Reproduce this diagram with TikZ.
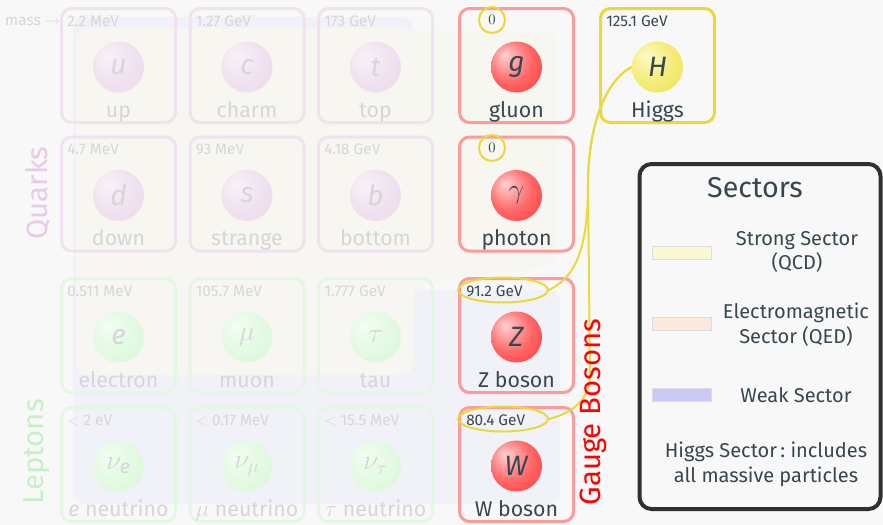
\documentclass[tikz,border=0pt]{standalone}
\usepackage{amsmath}
\usepackage{fontspec}
\setmainfont{Fira Sans}
\usetikzlibrary{shapes.geometric}

% palette
\definecolor{bg}{HTML}{F8F8F8}
\definecolor{ink}{HTML}{37474F}
\definecolor{fade}{HTML}{D6D6D6}
\definecolor{quarkline}{HTML}{F0E2F0}
\definecolor{leptonline}{HTML}{E2F8E2}
\definecolor{gaugeline}{HTML}{FF9A9A}
\definecolor{higgsline}{HTML}{E9D93A}
\definecolor{quarklabel}{HTML}{E6CCE6}
\definecolor{leptonlabel}{HTML}{C8F0C8}
\definecolor{weakbg}{HTML}{F1F2F8}
\definecolor{embg}{HTML}{F8F6F3}
\definecolor{strongbg}{HTML}{F7F7F0}
\definecolor{legendline}{HTML}{2F2F2F}
\definecolor{swstrong}{HTML}{FBF8D6}
\definecolor{swem}{HTML}{FAE9DC}
\definecolor{swweak}{HTML}{C9C9F3}
\definecolor{swedge}{HTML}{DDDDDD}
% ball colours
\definecolor{rbA}{HTML}{FFD2D2}
\definecolor{rbB}{HTML}{FF6666}
\definecolor{rbC}{HTML}{FF2020}
\definecolor{ybA}{HTML}{FCFAC8}
\definecolor{ybB}{HTML}{F4EC78}
\definecolor{ybC}{HTML}{ECDE3C}
\definecolor{pbA}{HTML}{F8F1F8}
\definecolor{pbB}{HTML}{F0E2F0}
\definecolor{pbC}{HTML}{E9D4E9}
\definecolor{gbA}{HTML}{F2FDF2}
\definecolor{gbB}{HTML}{E2FAE2}
\definecolor{gbC}{HTML}{D2F5D2}

\pgfdeclareradialshading{redball}{\pgfpoint{-12bp}{12bp}}{color(0bp)=(rbA); color(22bp)=(rbB); color(50bp)=(rbC)}
\pgfdeclareradialshading{yellowball}{\pgfpoint{-12bp}{12bp}}{color(0bp)=(ybA); color(22bp)=(ybB); color(50bp)=(ybC)}
\pgfdeclareradialshading{purpleball}{\pgfpoint{-12bp}{12bp}}{color(0bp)=(pbA); color(22bp)=(pbB); color(50bp)=(pbC)}
\pgfdeclareradialshading{greenball}{\pgfpoint{-12bp}{12bp}}{color(0bp)=(gbA); color(22bp)=(gbB); color(50bp)=(gbC)}

\tikzset{
  cellbox/.style={draw, rounded corners=7.5pt, line width=2.25pt,
    minimum width=85.5pt, minimum height=85.5pt, inner sep=0pt},
  ballnode/.style={circle, minimum size=38.25pt, inner sep=0pt,
    font=\fontsize{21}{24}\selectfont},
  namelabel/.style={anchor=base, inner sep=0pt, font=\fontsize{16}{19}\selectfont},
  masslabel/.style={anchor=base west, inner sep=0pt, font=\fontsize{11.5}{13}\selectfont},
  quark box/.style={draw=quarkline},
  quark ball/.style={shade, shading=purpleball, text=fade},
  quark text/.style={text=fade},
  lepton box/.style={draw=leptonline},
  lepton ball/.style={shade, shading=greenball, text=fade},
  lepton text/.style={text=fade},
  gauge box/.style={draw=gaugeline},
  gauge ball/.style={shade, shading=redball, text=ink},
  gauge text/.style={text=ink},
  higgs box/.style={draw=higgsline},
  higgs ball/.style={shade, shading=yellowball, text=ink},
  higgs text/.style={text=ink},
  massring/.style={circle, draw=higgsline, line width=1.5pt, minimum size=19.5pt,
    inner sep=0pt, text=ink, font=\fontsize{10.5}{12}\selectfont},
  massoval/.style={ellipse, draw=higgsline, line width=1.5pt, minimum width=67.5pt,
    minimum height=18.75pt, inner sep=0pt},
  higgslink/.style={draw=higgsline, line width=1.5pt},
  grouplabel/.style={rotate=90, inner sep=0pt, font=\fontsize{22}{26}\selectfont},
  legendbox/.style={draw=legendline, line width=3pt, rounded corners=9pt,
    minimum width=180.75pt, minimum height=258.75pt, inner sep=0pt},
  swatch/.style={draw=swedge, line width=0.75pt, minimum width=44.25pt,
    minimum height=9.75pt, inner sep=0pt},
  legendtext/.style={align=center, text=ink, inner sep=0pt,
    font=\fontsize{15}{18.5}\selectfont},
}

% one particle cell: name, left, top, kind, symbol, label
\newcommand\pcell[6]{%
  \node[cellbox, #4 box] (#1) at ({#2+58.5},{#3+58.5}) {};
  \node[ballnode, #4 ball] (#1-b) at ({#2+58.5},{#3+60}) {#5};
  \node[namelabel, #4 text] (#1-l) at ({#2+58.5},{#3+110}) {#6};
}
% mass printed in the upper left corner of a cell: name, left, top, kind, mass
\newcommand\pmass[5]{%
  \node[masslabel, #4 text] (#1-m) at ({#2+7},{#3+19}) {#5};
}

\begin{document}
\begin{tikzpicture}[x=0.75pt, y=-0.75pt]
\fill[bg] (0,0) rectangle (883,525);
\useasboundingbox (0,0) rectangle (883,525);

% sector backgrounds
\fill[weakbg, rounded corners=9pt] (73,17) -- (413,17) -- (413,290) -- (560,290)
  -- (560,504) -- (73,504) -- cycle;
\fill[embg, rounded corners=9pt] (76,28) -- (413,28) -- (413,148) -- (557,148)
  -- (557,265) -- (413,285) -- (413,375) -- (76,375) -- cycle;
\fill[strongbg, opacity=0.7, rounded corners=9pt] (80,30) rectangle (557,258);

% quarks
\pcell{u}{60}{7}{quark}{\textit{u}}{up}
\pcell{c}{188.5}{7}{quark}{\textit{c}}{charm}
\pcell{t}{317}{7}{quark}{\textit{t}}{top}
\pcell{d}{60}{135.5}{quark}{\textit{d}}{down}
\pcell{s}{188.5}{135.5}{quark}{\textit{s}}{strange}
\pcell{b}{317}{135.5}{quark}{\textit{b}}{bottom}
\pmass{u}{60}{7}{quark}{2.2 MeV}
\pmass{c}{188.5}{7}{quark}{1.27 GeV}
\pmass{t}{317}{7}{quark}{173 GeV}
\pmass{d}{60}{135.5}{quark}{4.7 MeV}
\pmass{s}{188.5}{135.5}{quark}{93 MeV}
\pmass{b}{317}{135.5}{quark}{4.18 GeV}

% leptons
\pcell{e}{60}{277}{lepton}{\textit{e}}{electron}
\pcell{mu}{188.5}{277}{lepton}{$\mu$}{muon}
\pcell{tau}{317}{277}{lepton}{$\tau$}{tau}
\pcell{nue}{60}{406}{lepton}{$\nu_{\textit{e}}$}{\textit{e} neutrino}
\pcell{numu}{188.5}{406}{lepton}{$\nu_\mu$}{$\mu$ neutrino}
\pcell{nutau}{317}{406}{lepton}{$\nu_\tau$}{$\tau$ neutrino}
\pmass{e}{60}{277}{lepton}{0.511 MeV}
\pmass{mu}{188.5}{277}{lepton}{105.7 MeV}
\pmass{tau}{317}{277}{lepton}{1.777 GeV}
\pmass{nue}{60}{406}{lepton}{$<$ 2 eV}
\pmass{numu}{188.5}{406}{lepton}{$<$ 0.17 MeV}
\pmass{nutau}{317}{406}{lepton}{$<$ 15.5 MeV}

% gauge bosons
\pcell{g}{458}{7}{gauge}{\textit{g}}{gluon}
\pcell{gamma}{458}{135.5}{gauge}{$\gamma$}{photon}
\pcell{Z}{458}{277}{gauge}{\textit{Z}}{Z boson}
\pcell{W}{458}{406}{gauge}{\textit{W}}{W boson}

% Higgs
\pcell{H}{599}{7}{higgs}{\textit{H}}{Higgs}
\pmass{H}{599}{7}{higgs}{125.1 GeV}

% boson masses, marked in yellow
\node[massring] (g-m) at (492,20) {$0$};
\node[massring] (gamma-m) at (492,148) {$0$};
\node[massoval] (Z-m) at (503,290) {};
\node[masslabel, text=ink] (Z-mt) at (466,296) {91.2 GeV};
\node[massoval] (W-m) at (503,419) {};
\node[masslabel, text=ink] (W-mt) at (466,425) {80.4 GeV};

% Higgs couplings to the massive bosons
\draw[higgslink] (H-b.west) .. controls (606,80) and (588,125) .. (588,185)
  .. controls (588,250) and (575,277) .. (Z-m.east);
\draw[higgslink] (H-b.west) .. controls (606,80) and (588,125) .. (588,185)
  -- (590,375) .. controls (590,400) and (572,413) .. (W-m.east);

% group labels
\node[anchor=base east, inner sep=0pt, text=fade, font=\fontsize{11.5}{13}\selectfont]
  (masskey) at (61,25) {mass $\rightarrow$};
\node[grouplabel, text=quarklabel] (quarks) at (38,193) {Quarks};
\node[grouplabel, text=leptonlabel] (leptons) at (37,452) {Leptons};
\node[grouplabel, text=red] (gauge) at (593,412) {Gauge Bosons};

% legend
\node[legendbox] (legend) at (760,336.5) {};
\node[legendtext, font=\fontsize{21.5}{25}\selectfont] (legend-title) at (755,188) {Sectors};
\node[swatch, fill=swstrong] (sw-strong) at (681.5,252.5) {};
\node[legendtext] (lt-strong) at (797,252) {Strong Sector\\(QCD)};
\node[swatch, fill=swem] (sw-em) at (681.5,323.5) {};
\node[legendtext] (lt-em) at (796,324.5) {Electromagnetic\\Sector (QED)};
\node[swatch, fill=swweak] (sw-weak) at (681.5,394.5) {};
\node[legendtext] (lt-weak) at (796,395) {Weak Sector};
\node[legendtext] (lt-higgs) at (766,464) {Higgs Sector\,:\ includes\\all massive particles};
\end{tikzpicture}
\end{document}
